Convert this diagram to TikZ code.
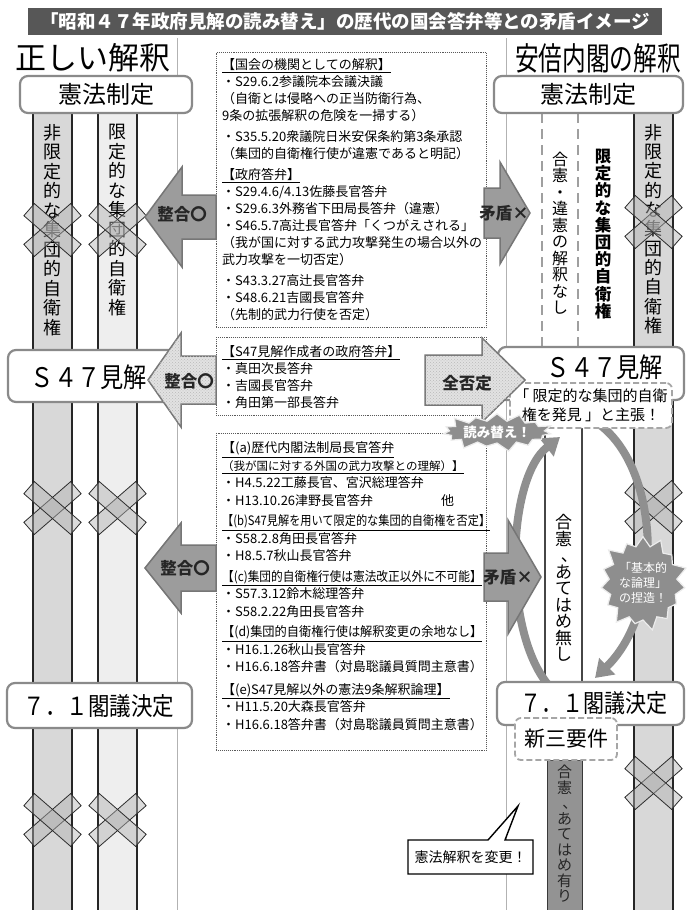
\documentclass[tikz,border=0pt]{standalone}
\usepackage{fontspec}
\usepackage{graphicx}
\setmainfont{Noto Sans CJK JP}
\usetikzlibrary{shapes.symbols,arrows.meta,patterns}
\definecolor{barc}{HTML}{575757}
\definecolor{colA}{HTML}{D8D8D8}
\definecolor{colB}{HTML}{EEEEEE}
\definecolor{boxline}{HTML}{8A8A8A}
\definecolor{arrowfill}{HTML}{9C9C9C}
\definecolor{arrowline}{HTML}{767676}
\definecolor{lightarrow}{HTML}{E2E2E2}
\definecolor{burstc}{HTML}{8E8E8E}
\definecolor{darkcol}{HTML}{939393}
\definecolor{curvec}{HTML}{8F8F8F}
\newcommand\fsz[2]{\fontsize{#1pt}{#2pt}\selectfont}
\newcommand\vcomma{\makebox[1em][l]{\hspace{0.35em}、}}
\newcommand\blockarrow[7]{\filldraw[#1] (#2,#5-#6) -- (#3,#5-#6) -- (#3,#5-#7) -- (#4,#5) -- (#3,#5+#7) -- (#3,#5+#6) -- (#2,#5+#6) -- cycle;}
\newcommand\xcross[2]{\begin{scope}[shift={(#1,#2)}]\filldraw[xbar,rotate=41] (-31,-8) rectangle (31,8);\filldraw[xbar,rotate=-41] (-31,-8) rectangle (31,8);\end{scope}}
\begin{document}
\begin{tikzpicture}[x=1pt,y=-1pt,
  thinline/.style={draw=gray!60,line width=1pt},
  colline/.style={draw=black!85,line width=2pt},
  dashline/.style={draw=gray!75,line width=2.4pt,dash pattern=on 10pt off 6pt},
  midline/.style={draw=gray!55!black,line width=1.3pt},
  vtxt/.style={align=center,inner sep=0pt},
  xbar/.style={fill=gray!60,fill opacity=0.45,draw=gray!35!black,line width=0.8pt},
  roundbox/.style={draw=boxline,line width=2.2pt,rounded corners=8pt,fill=white,inner sep=0pt},
  dashbox/.style={draw=gray!70,line width=1.8pt,dash pattern=on 6pt off 3pt,rounded corners=6pt,fill=white,inner sep=0pt},
  txtframe/.style={draw=gray!70!black,densely dotted,line width=0.9pt,fill=white,inner sep=0pt,anchor=north west},
  txtbody/.style={align=left,anchor=north west,inner sep=0pt,font=\fsz{13}{17}},
  darr/.style={fill=arrowfill,draw=arrowline,line width=1.5pt,line join=miter},
  larr/.style={fill=lightarrow,draw=arrowline,line width=1.5pt,line join=miter,postaction={pattern=crosshatch dots,pattern color=gray!55}},
  alabel/.style={font=\bfseries\fsz{16.5}{16.5},text=black!85,inner sep=0pt},
  curvearrow/.style={draw=curvec,line width=8pt,-{Triangle[width=22pt,length=17pt]}},
  burst/.style={starburst,starburst points=15,fill=burstc,draw=white!85!gray,line width=1.2pt,text=white,align=center,inner sep=0pt}
]
\useasboundingbox (0,0) rectangle (686,910);
\fill[white] (0,0) rectangle (686,910);

% dividers
\draw[thinline] (177,38) -- (177,910);
\draw[thinline] (506,38) -- (506,910);

% columns
\fill[colA] (33,113) rectangle (72,910);
\fill[colB] (98,113) rectangle (137,910);
\fill[colA] (634,113) rectangle (673,910);
\foreach \xx in {33,72,98,137,634,673} \draw[colline] (\xx,113) -- (\xx,910);

\node[vtxt,font=\fsz{18}{19.5}] (c1t) at (52.5,230) {非\\限\\定\\的\\な\\集\\団\\的\\自\\衛\\権};
\node[vtxt,font=\fsz{18}{19.5}] (c2t) at (117.5,220) {限\\定\\的\\な\\集\\団\\的\\自\\衛\\権};
\node[vtxt,font=\fsz{18}{19.3}] (c3t) at (653.5,229) {非\\限\\定\\的\\な\\集\\団\\的\\自\\衛\\権};

% right dashed columns
\draw[dashline] (542,113) -- (542,347);
\draw[dashline] (578,113) -- (578,347);
\node[vtxt,font=\fsz{16}{16.5}] (nasi) at (560,233) {合\\憲\\・\\違\\憲\\の\\解\\釈\\な\\し};
\node[vtxt,font=\bfseries\fsz{16.5}{17.2}] (gentei) at (603,234) {限\\定\\的\\な\\集\\団\\的\\自\\衛\\権};

% right middle lines
\draw[midline] (545,428) -- (545,682);
\draw[midline] (582,428) -- (582,682);
\node[vtxt,font=\fsz{17}{16.5}] (atenasi) at (563.5,588) {合\\憲\\\vcomma\\あ\\て\\は\\め\\無\\し};

% dark column
\filldraw[fill=darkcol,draw=gray!45!black,line width=1pt] (547,760) rectangle (582,910);
\node[vtxt,font=\fsz{15}{15.5},text=black!85] (ateari) at (564.5,834) {合\\憲\\\vcomma\\あ\\て\\は\\め\\有\\り};

% X marks
\xcross{52.5}{230}\xcross{117.5}{230}
\xcross{52.5}{508}\xcross{117.5}{508}
\xcross{52.5}{820}\xcross{117.5}{820}
\xcross{653.5}{222}\xcross{653.5}{507}\xcross{653.5}{783}

% center text boxes
\node[txtframe,minimum width=270pt,minimum height=275pt] (f1) at (216,52) {};
\node[txtbody] (t1) at (222,58.5) {\underline{【国会の機関としての解釈】}\\
・S29.6.2参議院本会議決議\\
（自衛とは侵略への正当防衛行為、\\
9条の拡張解釈の危険を一掃する）\\[4pt]
・S35.5.20衆議院日米安保条約第3条承認\\
（集団的自衛権行使が違憲であると明記）\\[4pt]
\underline{【政府答弁】}\\
・S29.4.6/4.13佐藤長官答弁\\
・S29.6.3外務省下田局長答弁（違憲）\\
・S46.5.7高辻長官答弁「くつがえされる」\\
（我が国に対する武力攻撃発生の場合以外の\\
武力攻撃を一切否定）\\[4pt]
・S43.3.27高辻長官答弁\\
・S48.6.21吉國長官答弁\\
（先制的武力行使を否定）};

\node[txtframe,minimum width=270pt,minimum height=78pt] (f2) at (216,337) {};
\node[txtbody] (t2) at (222,345.5) {\underline{【S47見解作成者の政府答弁】}\\
・真田次長答弁\\
・吉國長官答弁\\
・角田第一部長答弁};

\node[txtframe,minimum width=270pt,minimum height=317pt] (f3) at (216,433) {};
\node[txtbody,font=\fsz{13}{17.5}] (t3) at (222,441.5) {\underline{【(a)歴代内閣法制局長官答弁}\\
{\fsz{11.5}{17.5}\underline{（我が国に対する外国の武力攻撃との理解）】}}\\
・H4.5.22工藤長官、宮沢総理答弁\\
\makebox[232pt][l]{・H13.10.26津野長官答弁\hfill 他}\\[3pt]
\underline{\scalebox{0.86}[1]{【(b)S47見解を用いて限定的な集団的自衛権を否定】}}\\
・S58.2.8角田長官答弁\\
・H8.5.7秋山長官答弁\\[3pt]
\underline{\scalebox{0.9}[1]{【(c)集団的自衛権行使は憲法改正以外に不可能】}}\\
・S57.3.12鈴木総理答弁\\
・S58.2.22角田長官答弁\\[3pt]
\underline{\scalebox{0.94}[1]{【(d)集団的自衛権行使は解釈変更の余地なし】}}\\
・H16.1.26秋山長官答弁\\
・H16.6.18答弁書（対島聡議員質問主意書）\\[5pt]
\underline{【(e)S47見解以外の憲法9条解釈論理】}\\
・H11.5.20大森長官答弁\\
・H16.6.18答弁書（対島聡議員質問主意書）};

% curved arrows on right
\coordinate (cl0) at (553,690);
\coordinate (cl1) at (560,437);
\coordinate (cr0) at (600,425);
\coordinate (cr1) at (595,678);
\draw[curvearrow] (cl0) .. controls (502,640) and (505,480) .. (cl1);
\draw[curvearrow] (cr0) .. controls (660,470) and (665,610) .. (cr1);

% rounded boxes
\node[roundbox,minimum width=172pt,minimum height=37pt] (kenL) at (106,94.5) {};
\node[font=\fsz{24}{24}] (kenLt) at (kenL) {憲法制定};
\node[roundbox,minimum width=189pt,minimum height=37pt] (kenR) at (588.5,94.5) {};
\node[font=\fsz{24}{24}] (kenRt) at (kenR) {憲法制定};

\node[roundbox,minimum width=172pt,minimum height=52pt] (s47L) at (94,376) {};
\node[font=\fsz{27}{27},inner sep=0pt] (s47Lt) at (89,377) {\scalebox{0.86}[1]{Ｓ４７見解}};
\node[roundbox,minimum width=186pt,minimum height=53pt] (s47R) at (591,373.5) {};
\node[dashbox,minimum width=162pt,minimum height=45pt] (hakken) at (591,405.5) {};
\node[font=\fsz{15}{18.5},align=center,inner sep=0pt] (hakkent) at (hakken) {「 限定的な集団的自衛\\権を発見 」と主張！};
\node[font=\fsz{27}{27},inner sep=0pt] (s47Rt) at (605,367) {\scalebox{0.86}[1]{Ｓ４７見解}};

\node[roundbox,minimum width=185pt,minimum height=45pt] (k71L) at (99.5,705.5) {};
\node[font=\fsz{25}{25},inner sep=0pt] (k71Lt) at (99,706) {\scalebox{0.86}[1]{７．１閣議決定}};
\node[roundbox,minimum width=187pt,minimum height=43pt] (k71R) at (590.5,703.5) {};
\node[font=\fsz{25}{25},inner sep=0pt] (k71Rt) at (594,703) {\scalebox{0.84}[1]{７．１閣議決定}};
\node[dashbox,minimum width=102pt,minimum height=42pt] (sinsan) at (566,739) {};
\node[font=\fsz{21}{21}] (sinsant) at (sinsan) {新三要件};

% block arrows
\blockarrow{darr}{216}{182}{145}{217}{22}{50}
\node[alabel] (seigo1) at (182,214) {整合〇};
\blockarrow{larr}{216}{181}{148}{380}{24}{47}
\node[alabel] (seigo2) at (189,381) {整合〇};
\blockarrow{darr}{216}{181}{145}{568}{23}{45}
\node[alabel] (seigo3) at (185,568) {整合〇};
\blockarrow{darr}{484}{500}{530}{213}{25}{51}
\node[alabel] (mujun1) at (504,213) {矛盾×};
\blockarrow{darr}{484}{508}{541}{577}{24}{57}
\node[alabel] (mujun2) at (508,577) {矛盾×};
\blockarrow{larr}{425}{482}{525}{380}{25}{42}
\node[alabel] (zenhi) at (467,383) {全否定};

% bursts
\node[burst,starburst point height=10pt,minimum width=92pt,minimum height=42pt,font=\bfseries\fsz{13.5}{14}] (yomi) at (497,432) {読み替え！};
\node[burst,starburst point height=13pt,minimum width=82pt,minimum height=100pt,font=\fsz{12}{15}] (netsuzo) at (643,583) {「基本的\\な論理」\\の捏造！};

% callout
\filldraw[fill=white,draw=black,line width=1.4pt,line join=miter] (408,840) -- (488,840) -- (518,806) -- (505,840) -- (533,840) -- (533,874) -- (408,874) -- cycle;
\node[font=\fsz{14}{14}] (henkou) at (470.5,857) {憲法解釈を変更！};

% title and headings
\fill[barc] (28,8) rectangle (662,35);
\node[font=\bfseries\fsz{18.5}{18.5},text=white,inner sep=0pt] (title) at (345,21.5) {「昭和４７年政府見解の読み替え」の歴代の国会答弁等との矛盾イメージ};
\node[font=\fsz{31}{31},inner sep=0pt] (lblL) at (93,58) {正しい解釈};
\node[font=\fsz{32}{32},inner sep=0pt] (lblR) at (598,58) {\scalebox{0.74}[1]{安倍内閣の解釈}};
\end{tikzpicture}
\end{document}
